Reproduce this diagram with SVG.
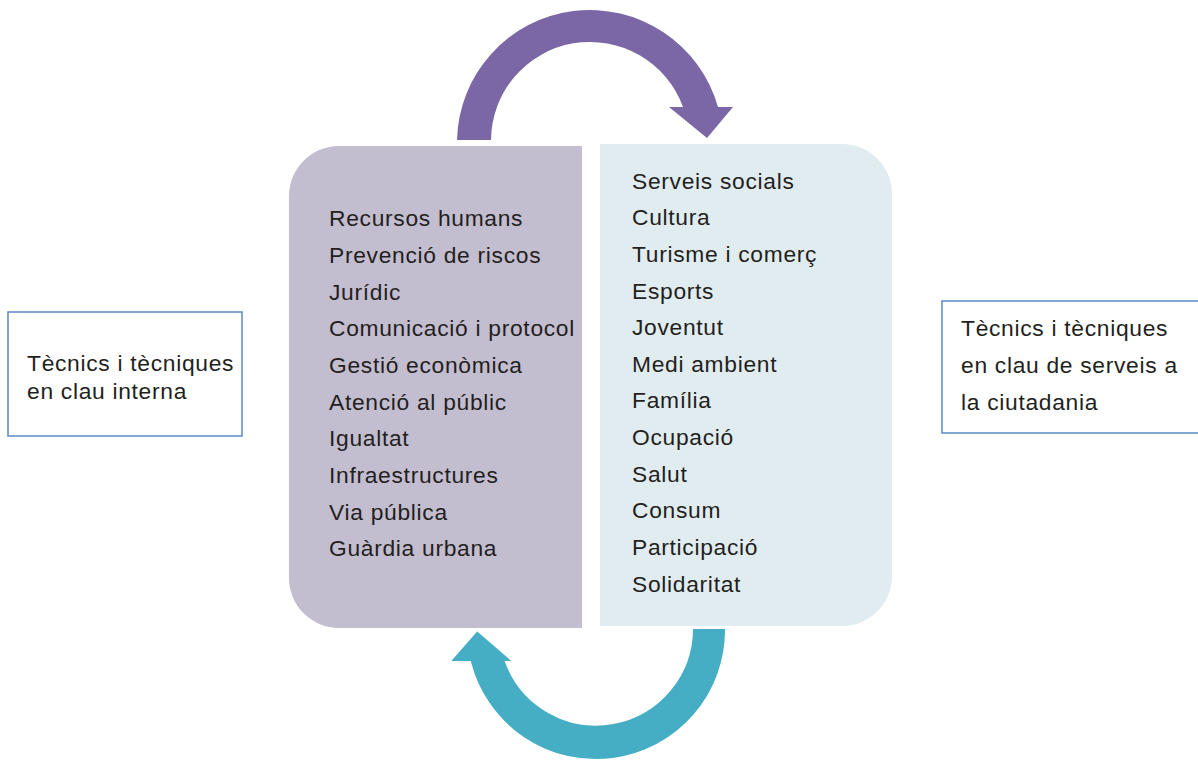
<svg xmlns="http://www.w3.org/2000/svg" width="1198" height="760" viewBox="0 0 1198 760">
<style>
.t{font-family:"Liberation Sans",Arial,Helvetica,sans-serif;font-size:22.8px;letter-spacing:0.7px;fill:#231f20}
.box{fill:#ffffff;stroke:#5b8ac6;stroke-width:1.5}
</style>
<rect width="1198" height="760" fill="#ffffff"/>
<g id="panel-left">
<path d="M339,146 H582 V628 H339 A50,50 0 0 1 289,578 V196 A50,50 0 0 1 339,146 Z" fill="#c3bdd0"/>
<text class="t" x="329" y="226">Recursos humans</text>
<text class="t" x="329" y="263">Prevenció de riscos</text>
<text class="t" x="329" y="300">Jurídic</text>
<text class="t" x="329" y="336">Comunicació i protocol</text>
<text class="t" x="329" y="373">Gestió econòmica</text>
<text class="t" x="329" y="410">Atenció al públic</text>
<text class="t" x="329" y="446">Igualtat</text>
<text class="t" x="329" y="483">Infraestructures</text>
<text class="t" x="329" y="520">Via pública</text>
<text class="t" x="329" y="556">Guàrdia urbana</text>
</g>
<g id="panel-right">
<path d="M600,144 H842 A50,50 0 0 1 892,194 V576 A50,50 0 0 1 842,626 H600 Z" fill="#e1ecf0"/>
<text class="t" x="632" y="189">Serveis socials</text>
<text class="t" x="632" y="225">Cultura</text>
<text class="t" x="632" y="262">Turisme i comerç</text>
<text class="t" x="632" y="299">Esports</text>
<text class="t" x="632" y="335">Joventut</text>
<text class="t" x="632" y="372">Medi ambient</text>
<text class="t" x="632" y="408">Família</text>
<text class="t" x="632" y="445">Ocupació</text>
<text class="t" x="632" y="482">Salut</text>
<text class="t" x="632" y="518">Consum</text>
<text class="t" x="632" y="555">Participació</text>
<text class="t" x="632" y="592">Solidaritat</text>
</g>
<g id="box-left">
<rect class="box" x="8" y="312" width="234" height="124"/>
<text class="t" x="27" y="371">Tècnics i tècniques</text>
<text class="t" x="27" y="399">en clau interna</text>
</g>
<g id="box-right">
<rect class="box" x="942" y="301" width="270" height="132"/>
<text class="t" x="961" y="336">Tècnics i tècniques</text>
<text class="t" x="961" y="373">en clau de serveis a</text>
<text class="t" x="961" y="410">la ciutadania</text>
</g>
<g id="connectors">
<path d="M457,140 A133,133 0 0 1 718,107 L733,107 L707,138 L669,107 L683,107 A99,99 0 0 0 491,140 Z" fill="#7b67a5"/>
<path d="M726,628 A130,130 0 0 1 470,662 L449,662 L477,630 L514,662 L506,662 A96,96 0 0 0 692,628 Z" fill="#45aec4" stroke="#ffffff" stroke-width="2" stroke-linejoin="miter"/>
</g>
</svg>
